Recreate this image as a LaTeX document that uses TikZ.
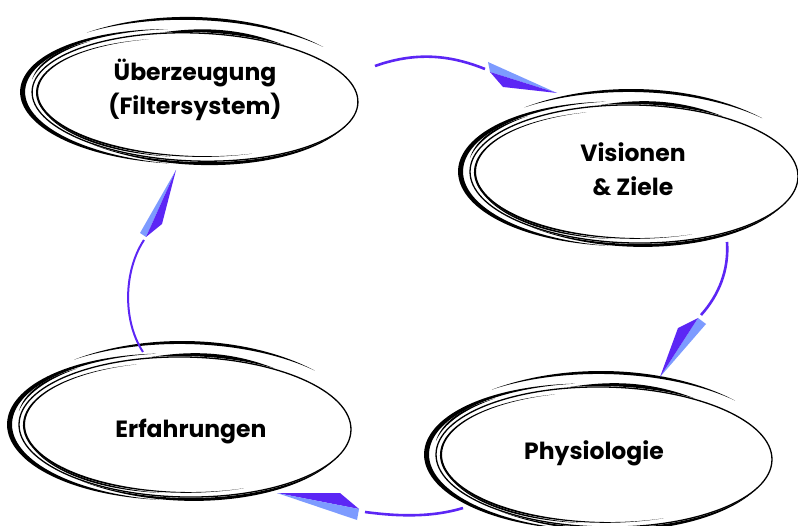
\documentclass[tikz,border=0pt]{standalone}
\usepackage{fontspec}
\setmainfont{Poppins}
\definecolor{arrdark}{RGB}{92,38,245}
\definecolor{arrlight}{RGB}{125,155,255}
\newcommand\brsk[5]{%
 \fill plot[domain=#3:#4, samples=36, smooth] ({((#1)+(#5)*sin((\x-#3)/(#4-#3)*180))*cos(\x)}, {((#2)+(#5)*sin((\x-#3)/(#4-#3)*180))*sin(\x)})
  -- plot[domain=#3:#4, samples=36, smooth] ({(#1)*cos(#3+#4-\x)},{(#2)*sin(#3+#4-\x)}) -- cycle;}
\newcommand\sketchell[5]{%
 \begin{scope}[shift={(#1,#2)}, yscale=-1, rotate=#5]
  \draw[line width=1.3] (0,0) ellipse ({#3} and {#4});
  \brsk{#3+7}{#4+4}{100}{262}{5}
  \brsk{#3-6}{#4-5}{108}{292}{2.2}
  \brsk{#3+16}{#4+13}{45}{128}{3}
  \brsk{#3+1}{#4+1}{58}{102}{3.5}
  \brsk{#3}{#4+1}{232}{335}{3}
  \brsk{#3-4}{#4-3}{200}{262}{1.8}
  \brsk{#3+3}{#4+4}{130}{170}{2}
 \end{scope}}
\tikzset{
 lbl/.style={font=\fontsize{23.5}{34}\selectfont\bfseries, align=center, text=black},
 conn/.style={draw=arrdark, line width=2.6},
}
\begin{document}
\begin{tikzpicture}[x=1pt,y=-1pt]
\useasboundingbox (0,0) rectangle (798,526);
\fill[white] (0,0) rectangle (798,526);
% ellipses
\sketchell{195}{97}{163}{64}{2}
\sketchell{634}{174}{164}{69}{1}
\sketchell{604}{457}{168}{70}{1}
\sketchell{185}{427}{166}{70}{1}
% labels
\node[lbl] (ueb) at (195,90) {Überzeugung\\(Filtersystem)};
\node[lbl] (vis) at (633,169) {Visionen\\\& Ziele};
\node[lbl] (phy) at (594,453) {Physiologie};
\node[lbl] (erf) at (191,432) {Erfahrungen};
% connector coordinates
\coordinate (s1) at (375,66);  \coordinate (e1) at (485,69);
\coordinate (s2) at (143,352); \coordinate (e2) at (144,240);
\coordinate (s3) at (727,242); \coordinate (e3) at (701,315);
\coordinate (s4) at (463,508); \coordinate (e4) at (365,512);
\draw[conn] (s1) .. controls (420,50) and (455,57) .. (e1);
\draw[conn, line width=2] (s2) .. controls (122,320) and (124,270) .. (e2);
\draw[conn] (s3) .. controls (729,270) and (719,295) .. (e3);
\draw[conn] (s4) .. controls (430,518) and (395,516) .. (e4);
% arrowheads
\fill[arrlight] (488,62) -- (490,72) -- (557,93) -- cycle;
\fill[arrdark] (490,72) -- (503,87) -- (557,93) -- cycle;
\fill[arrlight] (176,170) -- (140,233) -- (146,237) -- cycle;
\fill[arrdark] (176,170) -- (146,237) -- (162,224) -- cycle;
\fill[arrlight] (660,377) -- (698,318) -- (706,324) -- cycle;
\fill[arrdark] (660,377) -- (698,318) -- (678,328) -- cycle;
\fill[arrdark] (277,493) -- (340,493) -- (359,509) -- cycle;
\fill[arrlight] (277,493) -- (359,509) -- (357,520) -- cycle;
\end{tikzpicture}
\end{document}
